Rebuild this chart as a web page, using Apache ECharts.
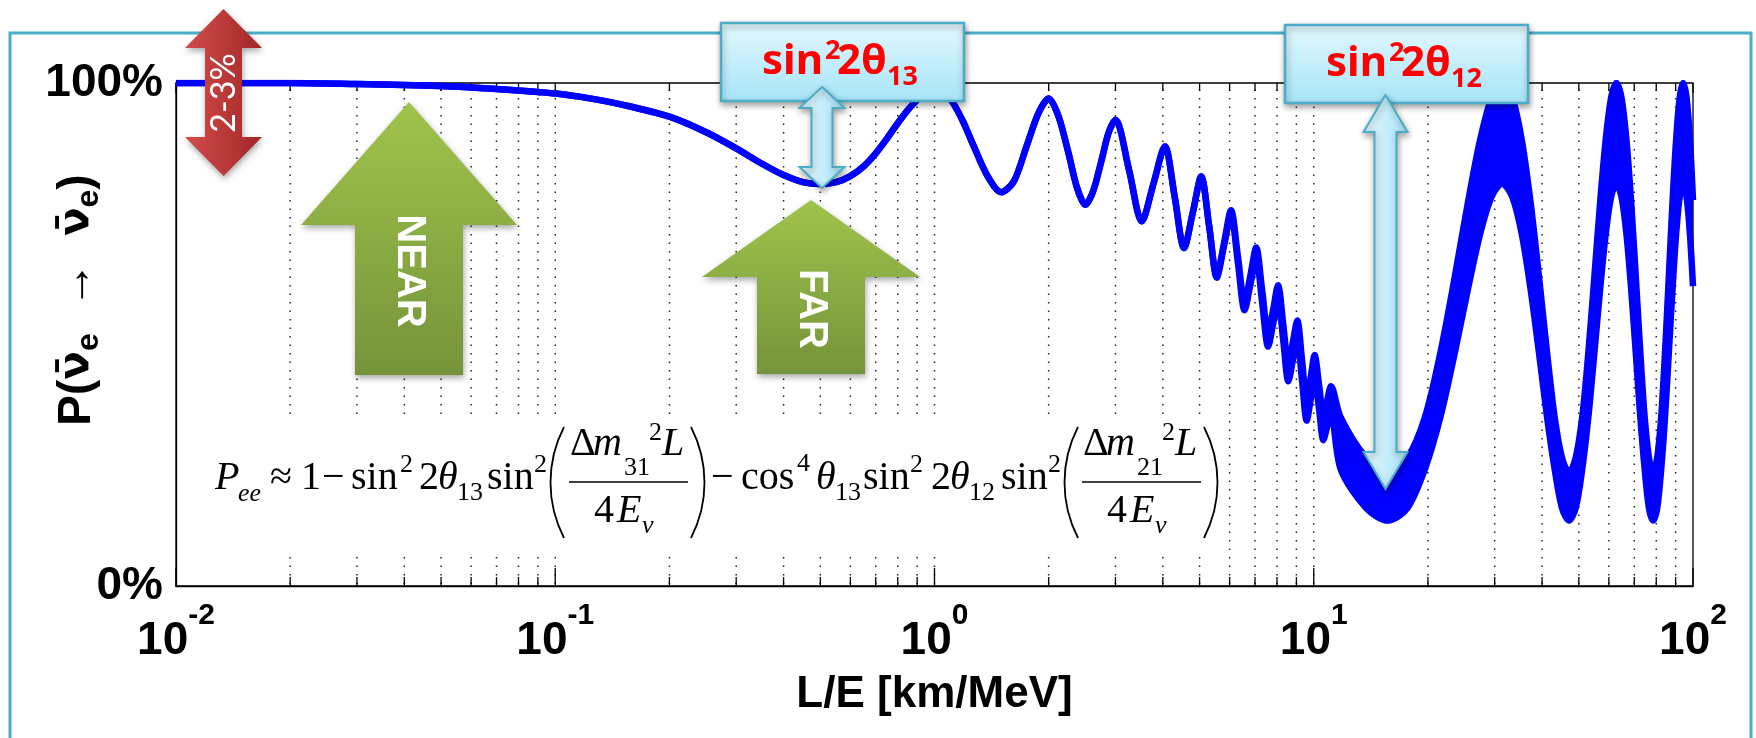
<!DOCTYPE html>
<html><head><meta charset="utf-8">
<script src="https://cdn.jsdelivr.net/npm/echarts@6/dist/echarts.min.js"></script>
<style>html,body{margin:0;padding:0;background:#fff}#c{width:1756px;height:738px}</style>
</head><body><div id="c"></div>
<script>
// ---------------- data ----------------
// L/E [km/MeV]
const leValues = [0.01,0.02,0.03,0.04,0.05,0.06,0.07,0.08,0.09,0.1,0.12,0.15,0.2,0.25,0.3,0.35,0.4,0.45,0.5,0.55,0.6,0.65,0.7,0.75,0.8,0.85,0.9,0.95,1.0,1.06,1.12,1.19,1.26,1.38,1.5,1.62,1.75,1.88,2.0,2.12,2.25,2.38,2.5,2.62,2.75,2.88,3.0,3.26,3.52,3.78,4.05,4.3,4.55,4.8,5.05,5.3,5.55,5.8,6.05,6.31,6.57,6.81,7.05,7.31,7.58,7.82,8.05,8.31,8.57,8.81,9.05,9.31,9.58,9.82,10.05,10.33,10.6,10.85,11.1,
  11.78,13.74,15.70,17.66,19.63,21.59,23.55,25.51,27.48,29.44,31.40,33.36,35.33,37.29,39.25,41.21,43.18,45.14,47.10,49.06,51.03,52.99,54.95,56.91,58.88,60.84,62.80,64.76,66.73,68.69,70.65,72.61,74.58,76.54,78.50,80.46,82.43,84.39,86.35,88.31,90.28,92.24,94.20,96.16,98.13,100];
// upper edge of the survival probability trace [%]
const pUpper = [100,100,99.8,99.6,99.4,99.1,98.8,98.5,98.2,97.9,97.1,95.7,93.3,90.2,87.0,84.0,81.7,80.3,79.9,80.3,81.5,83.4,86.0,89.0,92.0,94.6,96.7,98.9,99.6,98.4,96.0,92.3,88.0,81.5,78.3,80.5,87.5,94.0,96.9,93.5,86.4,79.0,75.8,78.5,84.3,90.2,92.7,82.6,72.5,80.0,87.4,77.3,67.2,74.3,81.4,71.5,61.7,68.2,74.7,65.5,56.4,61.8,67.3,58.8,50.2,55.0,59.8,52.0,44.1,48.5,52.8,45.0,37.1,41.5,45.9,39.9,34.0,36.9,39.7,
  33.5,25.5,22.5,25.5,33.5,46.5,61.5,76.3,88.8,97.1,100,97.1,88.8,76.3,61.5,46.5,33.5,25.5,22.5,25.5,33.5,46.5,61.5,76.3,88.8,97.1,100,97.1,88.8,76.3,61.5,46.5,33.5,25.5,22.5,25.5,33.5,46.5,61.5,76.3,88.8,97.1,100,97.1,88.8,76.7];
// lower edge of the survival probability trace [%]
const pLower = [100,100,99.8,99.6,99.4,99.1,98.8,98.5,98.2,97.9,97.1,95.7,93.3,90.2,87.0,84.0,81.7,80.3,79.9,80.3,81.5,83.4,86.0,89.0,92.0,94.6,96.7,98.9,99.6,98.4,96.0,92.3,88.0,81.5,78.3,80.5,87.5,94.0,96.9,93.5,86.4,79.0,75.8,78.5,84.3,90.2,92.7,82.6,72.5,80.0,87.4,77.3,67.2,74.3,81.4,71.5,61.3,67.6,73.7,64.3,54.8,60.0,65.1,56.4,47.6,52.2,56.8,48.8,40.7,44.9,49.0,41.0,32.9,37.1,41.3,35.1,29.0,31.7,34.3,
  23.2,15.5,13.0,15.5,23.2,33.7,46.4,59.1,70.1,77.4,80.0,77.4,70.1,59.1,46.4,33.7,23.2,15.5,13.0,15.5,23.2,33.7,46.4,59.1,70.1,77.4,80.0,77.4,70.1,59.1,46.4,33.7,23.2,15.5,13.0,15.5,23.2,33.7,46.4,59.1,70.1,77.4,80.0,77.4,70.1,59.6];
// x grid / tick positions
const xGridTicks = [0.01,0.02,0.03,0.04,0.05,0.06,0.07,0.08,0.09,0.1,0.2,0.3,0.4,0.5,0.6,0.7,0.8,0.9,1,2,3,4,5,6,7,8,9,10,20,30,40,50,60,70,80,90,100];
const yTickSuffix = '%';
const xAxisTitle = 'L/E [km/MeV]';

// ---------------- chart ----------------
const SANS = '"Liberation Sans", Arial, Helvetica, sans-serif';
const SERIF = '"Liberation Serif", "Times New Roman", serif';
const BOXF = '"Noto Sans", "Open Sans", sans-serif';
const chart = echarts.init(document.getElementById('c'), null, {renderer: 'canvas', width: 1756, height: 738});

function txt(x, base, str, size, o) {
  o = o || {};
  const k = o.k != null ? o.k : 0.3375;
  return {type: 'text', x: x, y: base - k * size, z: o.z || 45, silent: true,
    style: {text: str, font: (o.italic ? 'italic ' : '') + (o.bold ? 'bold ' : '') + size + 'px ' + (o.family || SERIF),
      fill: o.fill || '#000', align: o.align || 'left', verticalAlign: 'middle'}};
}
function paren(x, bulge) {
  return {type: 'bezierCurve', z: 45, silent: true,
    shape: {x1: x, y1: 427, x2: x, y2: 538, cpx1: x + bulge, cpy1: 462, cpx2: x + bulge, cpy2: 503},
    style: {stroke: '#000', lineWidth: 1.8, fill: null}};
}
function dblArrow(cx, yT, yH1, yH2, yB, hh, sh) {
  return [[cx, yT], [cx + hh, yH1], [cx + sh, yH1], [cx + sh, yH2], [cx + hh, yH2], [cx, yB], [cx - hh, yH2], [cx - sh, yH2], [cx - sh, yH1], [cx - hh, yH1]];
}
function upArrow(cx, yT, yH, yB, hh, sh) {
  return [[cx, yT], [cx + hh, yH], [cx + sh, yH], [cx + sh, yB], [cx - sh, yB], [cx - sh, yH], [cx - hh, yH]];
}
const shadow = {shadowBlur: 6, shadowOffsetY: 3, shadowOffsetX: 1, shadowColor: 'rgba(0,0,0,0.35)'};
function greenGrad() { return new echarts.graphic.LinearGradient(0, 0, 0, 1, [{offset: 0, color: '#9fc44c'}, {offset: 1, color: '#76933a'}]); }
const redGrad = new echarts.graphic.LinearGradient(0, 0, 1, 0, [{offset: 0, color: '#d44c4c'}, {offset: 1, color: '#a12727'}]);
function boxGrad() { return new echarts.graphic.LinearGradient(0, 0, 0, 1, [{offset: 0, color: '#e3f8fe'}, {offset: 1, color: '#a6e4f7'}]); }
function arrGrad() { return new echarts.graphic.LinearGradient(0, 0, 1, 0, [{offset: 0, color: '#e6f8fe'}, {offset: 1, color: '#a6e4f7'}]); }

const F = 40, S = 26, MB = 492, SPB = 474, SBB = 502, NB = 458, DB = 525;
const formula = [
  txt(215, MB, 'P', F, {italic: true}), txt(238, SBB + 1, 'ee', S, {italic: true}),
  txt(270, MB, '≈', F), txt(301, MB, '1', F), txt(322, MB, '−', F),
  txt(351, MB, 'sin', F), txt(400, SPB, '2', S), txt(419, MB, '2', F), txt(438, MB, 'θ', F, {italic: true}), txt(457, SBB, '13', S),
  txt(487, MB, 'sin', F), txt(534, SPB, '2', S),
  txt(570, NB, 'Δ', F), txt(593, NB, 'm', F, {italic: true}), txt(624, NB + 19, '31', S), txt(649, NB - 16, '2', S), txt(662, NB, 'L', F, {italic: true}),
  txt(594, DB, '4', F), txt(617, DB, 'E', F, {italic: true}), txt(642, DB + 10, 'ν', S, {italic: true}),
  txt(711, MB, '−', F), txt(741, MB, 'cos', F), txt(797, SPB - 1, '4', S), txt(816, MB, 'θ', F, {italic: true}), txt(835, SBB, '13', S),
  txt(863, MB, 'sin', F), txt(910, SPB, '2', S), txt(931, MB, '2', F), txt(950, MB, 'θ', F, {italic: true}), txt(969, SBB, '12', S),
  txt(1001, MB, 'sin', F), txt(1048, SPB, '2', S),
  txt(1083, NB, 'Δ', F), txt(1106, NB, 'm', F, {italic: true}), txt(1137, NB + 19, '21', S), txt(1162, NB - 16, '2', S), txt(1175, NB, 'L', F, {italic: true}),
  txt(1107, DB, '4', F), txt(1130, DB, 'E', F, {italic: true}), txt(1155, DB + 10, 'ν', S, {italic: true}),
  {type: 'line', z: 45, silent: true, shape: {x1: 569, y1: 482, x2: 688, y2: 482}, style: {stroke: '#000', lineWidth: 1.5}},
  {type: 'line', z: 45, silent: true, shape: {x1: 1082, y1: 482, x2: 1201, y2: 482}, style: {stroke: '#000', lineWidth: 1.5}},
  paren(564, -18), paren(691, 18), paren(1078, -18), paren(1204, 18)
];

const boxText = (x0, b, sub) => [
  txt(x0, b, 'sin', 42, {bold: true, family: BOXF, fill: '#ff0000', k: 0.388, z: 62}),
  txt(x0 + 63, b - 16, '2', 27, {bold: true, family: BOXF, fill: '#ff0000', k: 0.388, z: 62}),
  txt(x0 + 75, b, '2θ', 42, {bold: true, family: BOXF, fill: '#ff0000', k: 0.388, z: 62}),
  txt(x0 + 125, b + 10, sub, 27, {bold: true, family: BOXF, fill: '#ff0000', k: 0.388, z: 62})
];

const NU = '"DejaVu Sans", "Noto Sans", sans-serif';
const graphics = [
  {type: 'rect', z: 5, silent: true, shape: {x: 10, y: 33, width: 1741, height: 800}, style: {fill: null, stroke: '#4bacc6', lineWidth: 3}},
  {type: 'rect', z: 40, silent: true, shape: {x: 186, y: 420, width: 1040, height: 132}, style: {fill: '#fff'}},
  ...formula,
  {type: 'polygon', z: 50, silent: true, shape: {points: upArrow(409, 102, 225, 375, 108, 54)}, style: Object.assign({fill: greenGrad()}, shadow)},
  {type: 'polygon', z: 50, silent: true, shape: {points: upArrow(811, 200, 277, 374, 109, 54)}, style: Object.assign({fill: greenGrad()}, shadow)},
  {type: 'text', z: 51, silent: true, x: 409, y: 271, rotation: -Math.PI / 2, style: {text: 'NEAR', font: 'bold 40px ' + SANS, fill: '#fff', align: 'center', verticalAlign: 'middle'}},
  {type: 'text', z: 51, silent: true, x: 811, y: 309, rotation: -Math.PI / 2, style: {text: 'FAR', font: 'bold 40px ' + SANS, fill: '#fff', align: 'center', verticalAlign: 'middle'}},
  {type: 'polygon', z: 50, silent: true, shape: {points: dblArrow(223.5, 9, 48, 137, 176, 38.5, 18.5)}, style: Object.assign({fill: redGrad}, shadow)},
  {type: 'text', z: 51, silent: true, x: 224, y: 93, rotation: Math.PI / 2, style: {text: '2-3%', font: '34px Lato, "Open Sans", sans-serif', fill: '#fff', align: 'center', verticalAlign: 'middle'}},
  {type: 'rect', z: 60, silent: true, shape: {x: 721, y: 23, width: 243, height: 78}, style: Object.assign({fill: boxGrad(), stroke: '#4bacc6', lineWidth: 2.5}, shadow)},
  {type: 'rect', z: 60, silent: true, shape: {x: 1285, y: 25, width: 243, height: 78}, style: Object.assign({fill: boxGrad(), stroke: '#4bacc6', lineWidth: 2.5}, shadow)},
  ...boxText(762, 78, '13'),
  ...boxText(1326, 80, '12'),
  {type: 'polygon', z: 64, silent: true, shape: {points: dblArrow(822, 87, 108, 167, 188, 22.5, 10.5)}, style: Object.assign({fill: arrGrad(), stroke: '#4bacc6', lineWidth: 2}, shadow)},
  {type: 'polygon', z: 64, silent: true, shape: {points: dblArrow(1385.5, 95, 132, 452, 489, 22, 11)}, style: Object.assign({fill: arrGrad(), stroke: '#4bacc6', lineWidth: 2}, shadow)},
  {type: 'text', z: 45, silent: true, x: 77, y: 300, rotation: Math.PI / 2, style: {
    text: '{m|P(}{n|ν̄}{s|e}{a|  →  }{n|ν̄}{s|e}{m|)}', align: 'center', verticalAlign: 'middle',
    rich: {
      m: {fontSize: 46, fontWeight: 'bold', fontFamily: SANS, fill: '#000', lineHeight: 56},
      n: {fontSize: 42, fontWeight: 'bold', fontFamily: NU, fill: '#000', lineHeight: 56},
      s: {fontSize: 32, fontWeight: 'bold', fontFamily: SANS, fill: '#000', lineHeight: 30, verticalAlign: 'bottom'},
      a: {fontSize: 46, fontFamily: SANS, fill: '#000', lineHeight: 56}
    }}}
];

const option = {
  backgroundColor: '#fff',
  animation: false,
  grid: {left: 176, top: 83, width: 1517, height: 503, show: true, borderColor: '#000', borderWidth: 1.3, backgroundColor: 'transparent', containLabel: false, outerBoundsMode: 'none'},
  xAxis: {
    type: 'log', logBase: 10, min: 0.01, max: 100,
    axisLine: {show: true, lineStyle: {color: '#000', width: 1.3}},
    axisTick: {show: false}, splitLine: {show: false}, minorTick: {show: false},
    axisLabel: {
      margin: 15, color: '#000',
      formatter: function (v) { const e = Math.round(Math.log10(v)); return '{b|10}{e|' + e + '}'; },
      rich: {
        b: {fontSize: 46, fontWeight: 'bold', fontFamily: SANS, color: '#000', lineHeight: 80, verticalAlign: 'middle'},
        e: {fontSize: 30, fontWeight: 'bold', fontFamily: SANS, color: '#000', lineHeight: 30, verticalAlign: 'top'}
      }
    },
    name: xAxisTitle, nameLocation: 'middle', nameGap: 87,
    nameTextStyle: {fontSize: 44, fontWeight: 'bold', fontFamily: SANS, color: '#000'}
  },
  yAxis: {
    type: 'value', min: 0, max: 100, interval: 100,
    axisLine: {show: true, lineStyle: {color: '#000', width: 1.3}},
    axisTick: {show: false}, splitLine: {show: false},
    axisLabel: {margin: 13, fontSize: 46, fontWeight: 'bold', fontFamily: SANS, color: '#000', formatter: v => v + yTickSuffix}
  },
  graphic: {elements: graphics},
  series: [
    {
      type: 'custom', name: 'grid', z: 1, silent: true, clip: false,
      data: xGridTicks.map(v => [v, 0]), encode: {x: 0, y: 1},
      renderItem: function (params, api) {
        const v = api.value(0);
        const top = api.coord([v, 100]), bot = api.coord([v, 0]);
        const lg = Math.log10(v);
        const major = Math.abs(lg - Math.round(lg)) < 1e-9;
        const ch = [];
        if (v > 0.0100001 && v < 99.999) {
          ch.push({type: 'line', shape: {x1: bot[0], y1: bot[1] - 2, x2: top[0], y2: top[1]}, style: {stroke: '#222', lineWidth: 1.5, lineDash: [1.5, 7]}});
        }
        const lb = major ? 18 : 9, lt = major ? 10 : 8;
        ch.push({type: 'line', shape: {x1: bot[0], y1: bot[1], x2: bot[0], y2: bot[1] - lb}, style: {stroke: '#000', lineWidth: 1.3}});
        ch.push({type: 'line', shape: {x1: top[0], y1: top[1], x2: top[0], y2: top[1] + lt}, style: {stroke: '#000', lineWidth: 1.3}});
        return {type: 'group', children: ch};
      }
    },
    {
      type: 'custom', name: 'band', z: 2, silent: true,
      data: [[1, 50]], encode: {x: 0, y: 1},
      renderItem: function (params, api) {
        const pts = [];
        for (let i = 0; i < leValues.length; i++) pts.push(api.coord([leValues[i], pUpper[i]]));
        for (let i = leValues.length - 1; i >= 0; i--) pts.push(api.coord([leValues[i], pLower[i]]));
        return {type: 'polygon', shape: {points: pts}, style: {fill: '#0000ff'}};
      }
    },
    {
      type: 'line', name: 'upper', z: 3, symbol: 'none', smooth: 0.3, clip: true,
      data: leValues.map((x, i) => [x, pUpper[i]]),
      lineStyle: {color: '#0000ff', width: 6.5}
    },
    {
      type: 'line', name: 'lower', z: 3, symbol: 'none', smooth: 0.3, clip: true,
      data: leValues.map((x, i) => [x, pLower[i]]),
      lineStyle: {color: '#0000ff', width: 6.5}
    }
  ]
};
chart.setOption(option);
</script>
</body></html>
